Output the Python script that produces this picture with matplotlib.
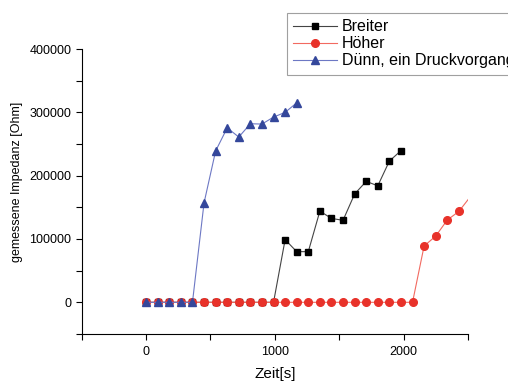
import numpy as np
from matplotlib import pyplot as plt
from matplotlib.ticker import MultipleLocator

plt.rcParams['font.family'] = ['Liberation Sans', 'DejaVu Sans']

# data
t_breit = [0, 90, 180, 270, 360, 450, 540, 630, 720, 810, 900, 990,
           1080, 1170, 1260, 1350, 1440, 1530, 1620, 1710, 1800, 1890, 1980]
y_breit = [0, 0, 0, 0, 0, 0, 0, 0, 0, 0, 0, 0,
           99000, 80000, 80000, 144000, 132500, 129500, 171000, 191000, 184000, 223000, 239500]

t_hoch = [0, 90, 180, 270, 360, 450, 540, 630, 720, 810, 900, 990,
          1080, 1170, 1260, 1350, 1440, 1530, 1620, 1710, 1800, 1890, 1980, 2070,
          2160, 2250, 2340, 2430, 2520]
y_hoch = [0] * 24 + [89000, 104500, 130000, 143500, 167000]

t_duenn = [0, 90, 180, 270, 360, 450, 540, 630, 720, 810, 900, 990, 1080, 1170]
y_duenn = [0, 0, 0, 0, 0, 157000, 239000, 275500, 261000, 282000, 281500, 292500, 300000, 315000]

fig = plt.figure(figsize=(5.08, 3.83), dpi=100)
ax = fig.add_axes([0.161, 0.128, 0.76, 0.744])

ax.plot(t_breit, y_breit, color='#444444', lw=0.8, marker='s', ms=5,
        mfc='black', mec='black', label='Breiter')
# last point lies just outside the axes, only its line is visible
ax.plot(t_hoch, y_hoch, color='#f26a60', lw=0.8, marker='o', ms=5.5,
        mfc='#e8322a', mec='#e8322a', markevery=slice(0, len(t_hoch) - 1),
        label='Höher')
ax.plot(t_duenn, y_duenn, color='#6d78c4', lw=0.8, marker='^', ms=6,
        mfc='#34479b', mec='#34479b', label='Dünn, ein Druckvorgang')

ax.set_xlim(-500, 2500)
ax.set_ylim(-50000, 400000)
ax.set_xticks([0, 1000, 2000])
ax.set_yticks([0, 100000, 200000, 300000, 400000])
ax.xaxis.set_minor_locator(MultipleLocator(500))
ax.yaxis.set_minor_locator(MultipleLocator(50000))
ax.tick_params(which='both', direction='out', length=4, width=0.8, labelsize=9)
ax.tick_params(axis='x', pad=5)

for s in ['top', 'right']:
    ax.spines[s].set_visible(False)
for s in ['left', 'bottom']:
    ax.spines[s].set_linewidth(0.8)

ax.set_xlabel('Zeit[s]', fontsize=11, labelpad=6)
ax.set_ylabel('gemessene Impedanz [Ohm]', fontsize=9)
ax.yaxis.set_label_coords(-0.153, 0.533)

leg = fig.legend(loc='upper left', bbox_to_anchor=(0.565, 0.966), fontsize=11.5,
                 frameon=True, fancybox=False, edgecolor='#888888',
                 borderaxespad=0, handlelength=2.75, handletextpad=0.3,
                 borderpad=0.4, labelspacing=0.12)
leg.get_frame().set_linewidth(0.8)

fig.savefig('out.png', dpi=100)
